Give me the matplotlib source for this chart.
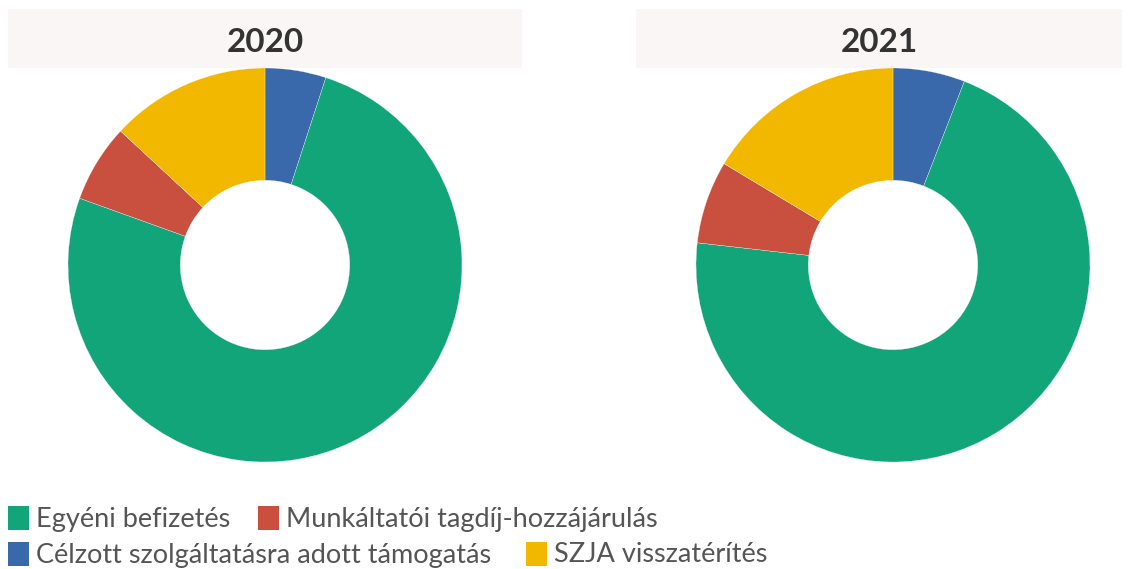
import matplotlib
matplotlib.use("Agg")
import matplotlib.pyplot as plt
from matplotlib.patches import Rectangle

plt.rcParams['font.family'] = ['Lato', 'DejaVu Sans']

years = ["2020", "2021"]
categories = ["Célzott szolgáltatásra adott támogatás", "Egyéni befizetés",
              "Munkáltatói tagdíj-hozzájárulás", "SZJA visszatérítés"]
values_2020 = [5.0, 75.5, 6.4, 13.1]
values_2021 = [5.9, 70.9, 6.8, 16.4]
colors = ["#3a69ab", "#13a57a", "#c9503e", "#f2b800"]

W, H = 1136, 569
fig = plt.figure(figsize=(W / 100, H / 100), dpi=100)

def fx(px):
    return px / W

def fy(py):
    return 1 - py / H

# title bands
bands = [(8, 522), (636, 1122)]
for (x0, x1), yr in zip(bands, years):
    fig.patches.append(Rectangle((fx(x0), fy(68)), fx(x1 - x0), (68 - 9) / H,
                                 transform=fig.transFigure, facecolor="#f9f6f5",
                                 edgecolor="none", zorder=0))
    fig.text(fx((x0 + x1) / 2), fy(42), yr, ha="center", va="center",
             fontsize=24, fontweight="bold", color="#333333")

centers = [265, 893]
R = 197
for cx, vals in zip(centers, [values_2020, values_2021]):
    ax = fig.add_axes([fx(cx - R), fy(265 + R), fx(2 * R), 2 * R / H])
    ax.pie(vals, colors=colors, startangle=90, counterclock=False, radius=1,
           wedgeprops=dict(width=0.57, edgecolor="white", linewidth=0.2))
    ax.set_xlim(-1, 1)
    ax.set_ylim(-1, 1)
    ax.set_aspect("equal")
    ax.axis("off")

# legend (flow layout)
legend_items = [
    (categories[1], colors[1], 8, 518),
    (categories[2], colors[2], 258, 518),
    (categories[0], colors[0], 8, 554),
    (categories[3], colors[3], 526, 554),
]
for label, col, x, yc in legend_items:
    fig.patches.append(Rectangle((fx(x), fy(yc + 12)), fx(21), 24 / H,
                                 transform=fig.transFigure, facecolor=col,
                                 edgecolor="none"))
    fig.text(fx(x + 28), fy(yc + 1), label, ha="left", va="center",
             fontsize=19.5, color="#555555")

fig.savefig("out.png", dpi=100)
